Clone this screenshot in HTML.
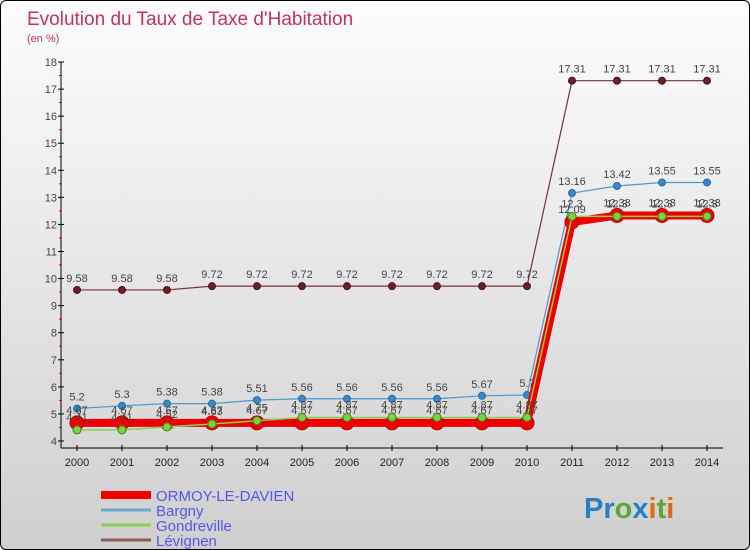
<!DOCTYPE html>
<html><head><meta charset="utf-8">
<style>
html,body{margin:0;padding:0;}
body{width:750px;height:550px;overflow:hidden;font-family:"Liberation Sans",sans-serif;}
#wrap{position:absolute;left:0;top:0;width:748px;height:548px;border:1px solid #000;border-radius:6px;overflow:hidden;background:linear-gradient(#fdfdfd,#e4e4e4 55%,#cfcfcf);}
</style></head>
<body>
<div id="wrap">
<svg id="chart" width="750" height="550" xmlns="http://www.w3.org/2000/svg">
<text x="26" y="24" font-size="19" fill="#c8305e">Evolution du Taux de Taxe d'Habitation</text>
<text x="26" y="41" font-size="11" fill="#c8305e">(en %)</text>
<g id="axes"></g>
<g id="series"></g>
<g id="legend" font-size="15"></g>
<g font-size="29" font-weight="bold">
<text x="583" y="517"><tspan fill="#2a7fc0">P</tspan><tspan fill="#2a7fc0">r</tspan><tspan fill="#5aa832">o</tspan><tspan fill="#2a7fc0">x</tspan><tspan fill="#e06a10">i</tspan><tspan fill="#5aa832">t</tspan><tspan fill="#e06a10">i</tspan></text>
</g>
</svg>
</div>
<script>
const years=[2000,2001,2002,2003,2004,2005,2006,2007,2008,2009,2010,2011,2012,2013,2014];
const yTicks=[4,5,6,7,8,9,10,11,12,13,14,15,16,17,18];
const ormoy=[4.67,4.67,4.67,4.67,4.67,4.67,4.67,4.67,4.67,4.67,4.67,12.09,12.33,12.33,12.33];
const bargny=[5.2,5.3,5.38,5.38,5.51,5.56,5.56,5.56,5.56,5.67,5.7,13.16,13.42,13.55,13.55];
const gondreville=[4.41,4.41,4.52,4.63,4.75,4.87,4.87,4.87,4.87,4.87,4.87,12.3,12.3,12.3,12.3];
const levignen=[9.58,9.58,9.58,9.72,9.72,9.72,9.72,9.72,9.72,9.72,9.72,17.31,17.31,17.31,17.31];
const seriesNames=["ORMOY-LE-DAVIEN","Bargny","Gondreville","Lévignen"];

const NS="http://www.w3.org/2000/svg";
const x=i=>76+i*45;
const y=v=>440-(v-4)*27.07;
function mk(tag,attrs,parent){const e=document.createElementNS(NS,tag);for(const k in attrs)e.setAttribute(k,attrs[k]);parent.appendChild(e);return e;}
const axes=document.getElementById('axes'),ser=document.getElementById('series'),leg=document.getElementById('legend');

let a=mk('line',{x1:60,y1:y(18),x2:60,y2:447,stroke:'#000'},axes);


a=mk('line',{x1:60,y1:447,x2:722,y2:447,stroke:'#000'},axes);


yTicks.forEach(t=>{
  mk('line',{x1:57,y1:y(t),x2:63,y2:y(t),stroke:'#000'},axes);
  if(t<18)mk('line',{x1:58,y1:y(t+0.5),x2:61,y2:y(t+0.5),stroke:'#e00'},axes);
  const tx=mk('text',{x:56,y:y(t)+4,'font-size':11,fill:'#444','text-anchor':'end'},axes);
  tx.textContent=t;
  
  
});
years.forEach((yr,i)=>{
  mk('line',{x1:x(i),y1:444,x2:x(i),y2:450,stroke:'#000'},axes);
  const tx=mk('text',{x:x(i),y:465,'font-size':11,fill:'#222','text-anchor':'middle'},axes);
  tx.textContent=yr;
  
  
});

function draw(data,name,color,width,dotR,dotFill,dotStroke,labelDy){
  const g=mk('g',{},ser);
  
  
  const pts=data.map((v,i)=>x(i)+','+y(v)).join(' ');
  mk('polyline',{points:pts,fill:'none',stroke:color,'stroke-width':width,'stroke-linejoin':'round'},g);
  data.forEach((v,i)=>{
    const c=mk('circle',{cx:x(i),cy:y(v),r:dotR,fill:dotFill,stroke:dotStroke,'stroke-width':1},g);
    
    
    const t=mk('text',{x:x(i),y:y(v)+labelDy,'font-size':11,fill:'#444','text-anchor':'middle'},g);
    t.textContent=String(v);
    
    
  });
}
draw(levignen,'levignen','#7a3038',1.2,3.5,'#6a2028','#4a1018',-8);
draw(bargny,'bargny','#4a9ad0',1.2,3.5,'#3a88c8','#2a6aa0',-8);
draw(ormoy,'ormoy','#ee0000',8,7,'#ee0000','#c00000',-9);
draw(gondreville,'gondreville','#88d050',1.5,4,'#80d040','#3a8a20',-9);

const legCols=['#ee0000','#6aa8cc','#88d050','#8a5a5a'],legW=[8,3,3,3];
seriesNames.forEach((n,i)=>{
  const yy=494+i*15;
  const l=mk('line',{x1:100,y1:yy,x2:150,y2:yy,stroke:legCols[i],'stroke-width':legW[i]},leg);
  
  
  const t=mk('text',{x:155,y:yy+6,fill:'#5555ee'},leg);
  t.textContent=n;
  
  
});
</script>
</body></html>
